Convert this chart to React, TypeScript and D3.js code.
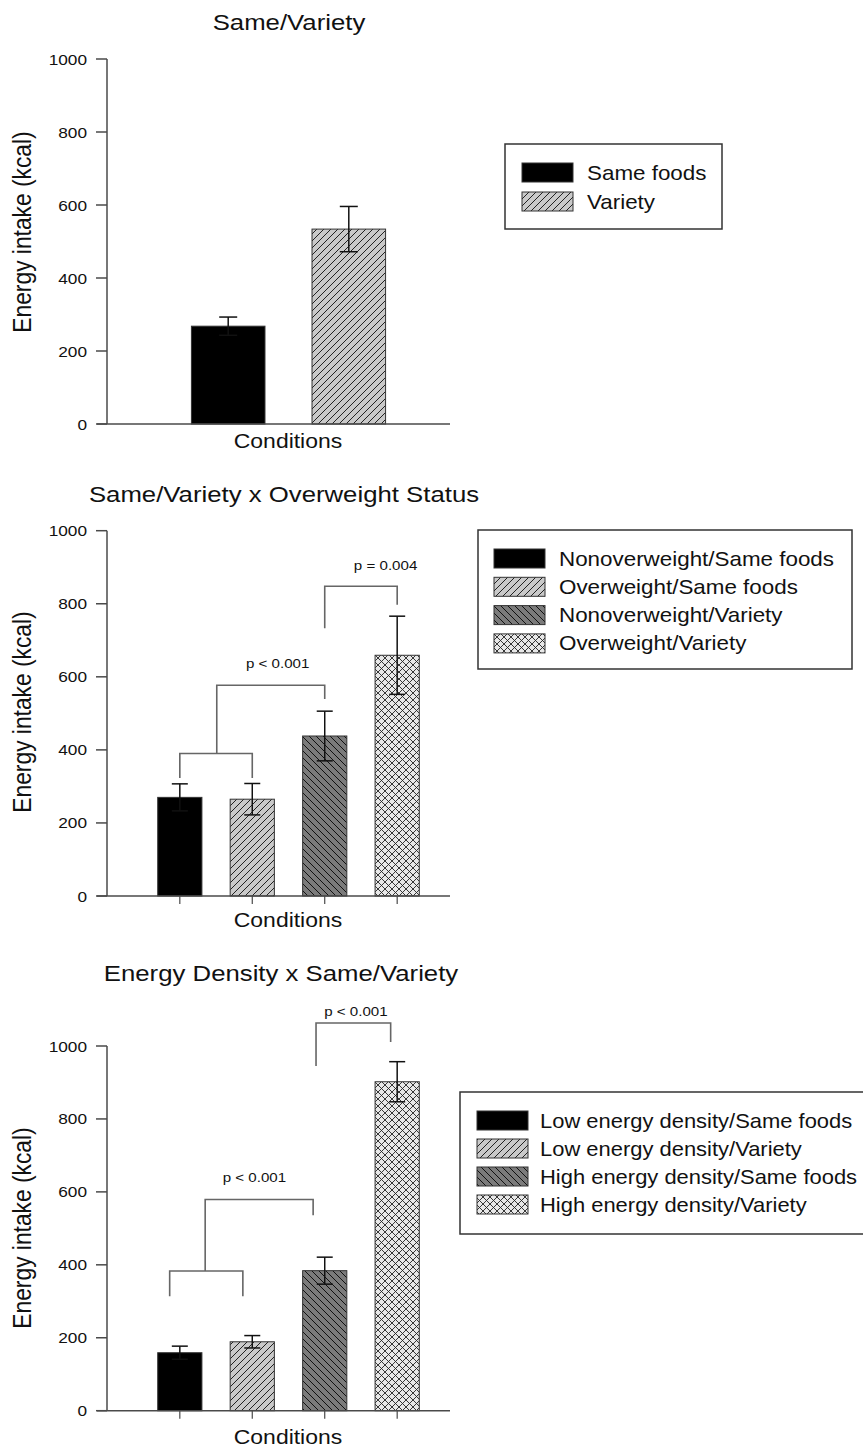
import * as d3 from "d3";

// three panels of mean energy intake (kcal) with SE bars
const sameVarietyCats = ["Same foods", "Variety"];
const sameVarietyMeans = [268, 534];
const sameVarietySE = [25, 62];

const overweightCats = [
  "Nonoverweight/Same foods",
  "Overweight/Same foods",
  "Nonoverweight/Variety",
  "Overweight/Variety",
];
const overweightMeans = [270, 265, 438, 659];
const overweightSE = [37, 43, 68, 107];

const densityCats = [
  "Low energy density/Same foods",
  "Low energy density/Variety",
  "High energy density/Same foods",
  "High energy density/Variety",
];
const densityMeans = [159, 189, 384, 902];
const densitySE = [18, 17, 37, 55];

const yTicks = [0, 200, 400, 600, 800, 1000];

// brackets: polylines in (bar index, kcal)
const overweightBrackets = [
  [[0, 323], [0, 390], [1, 390], [1, 323]],
  [[0.51, 390], [0.51, 577], [2, 577], [2, 539]],
  [[2, 733], [2, 848], [3, 848], [3, 797]],
];
const overweightPLabels = [
  { text: "p < 0.001", at: 1.35, value: 624 },
  { text: "p = 0.004", at: 2.84, value: 892 },
];
const densityBrackets = [
  [[-0.14, 314], [-0.14, 383], [0.87, 383], [0.87, 314]],
  [[0.35, 383], [0.35, 579], [1.84, 579], [1.84, 536]],
  [[1.88, 945], [1.88, 1063], [2.91, 1063], [2.91, 1011]],
];
const densityPLabels = [
  { text: "p < 0.001", at: 1.03, value: 627 },
  { text: "p < 0.001", at: 2.43, value: 1083 },
];

const FILLS = ["url(#solid)", "url(#fwd)", "url(#back)", "url(#cross)"];
const FONT = "'Liberation Sans', Arial, Helvetica, sans-serif";
const SX = 1.12; // the scan is a bit wider than it is tall

function Txt({ x, y, size, anchor = "start", rotate = false, children }) {
  return (
    <text
      transform={`translate(${x},${y}) scale(${SX},1)${rotate ? " rotate(-90)" : ""}`}
      fontSize={size}
      textAnchor={anchor}
      fontFamily={FONT}
      fill="#111"
    >
      {children}
    </text>
  );
}

function Panel({ title, titleX, titleY, top, bottom, cats, means, se, ticks, labelY, condY, brackets = [], pLabels = [] }) {
  const y = d3.scaleLinear().domain([0, 1000]).range([bottom, top]);
  const x = d3.scaleBand().domain(cats).range([107, 470]).paddingInner(0.39).paddingOuter(0.7);
  const centers = cats.map((c) => x(c) + x.bandwidth() / 2);
  const idx = d3.scaleLinear().domain([0, cats.length - 1]).range([centers[0], centers[centers.length - 1]]);
  const line = d3.line().x((d) => idx(d[0])).y((d) => y(d[1]));
  const cap = cats.length > 2 ? 8 : 9;

  return (
    <g>
      <Txt x={titleX} y={titleY} size={23} anchor="middle">{title}</Txt>
      {/* y axis */}
      <line x1={107} x2={107} y1={top} y2={bottom} stroke="#4a4a4a" strokeWidth={1.5} />
      {yTicks.map((t) => (
        <g key={t}>
          <line x1={96} x2={107} y1={y(t)} y2={y(t)} stroke="#4a4a4a" strokeWidth={1.5} />
          <Txt x={87} y={y(t) + 5.5} size={15.4} anchor="end">{t}</Txt>
        </g>
      ))}
      {/* bars */}
      {cats.map((c, i) => (
        <rect key={c} x={x(c)} y={y(means[i])} width={x.bandwidth()} height={y(0) - y(means[i])}
          fill={FILLS[i]} stroke="#333" strokeWidth={1} />
      ))}
      {/* x axis */}
      <line x1={97} x2={450} y1={bottom} y2={bottom} stroke="#4a4a4a" strokeWidth={1.5} />
      {ticks && centers.map((cx, i) => (
        <line key={i} x1={cx} x2={cx} y1={bottom} y2={bottom + 8} stroke="#4a4a4a" strokeWidth={1.2} />
      ))}
      {/* error bars */}
      {cats.map((c, i) => {
        const cx = centers[i];
        const hi = y(means[i] + se[i]);
        const lo = y(means[i] - se[i]);
        return (
          <g key={c} stroke="#111" strokeWidth={1.5}>
            <line x1={cx} x2={cx} y1={hi} y2={lo} />
            <line x1={cx - cap} x2={cx + cap} y1={hi} y2={hi} />
            <line x1={cx - cap} x2={cx + cap} y1={lo} y2={lo} />
          </g>
        );
      })}
      {brackets.map((b, i) => (
        <path key={i} d={line(b)} fill="none" stroke="#666" strokeWidth={1.6} />
      ))}
      {pLabels.map((p, i) => (
        <Txt key={i} x={idx(p.at)} y={y(p.value)} size={13.5} anchor="middle">{p.text}</Txt>
      ))}
      <Txt x={31} y={labelY} size={22.8} anchor="middle" rotate>Energy intake (kcal)</Txt>
      <Txt x={288} y={condY} size={20.5} anchor="middle">Conditions</Txt>
    </g>
  );
}

function Legend({ x, y, w, h, swX, rowY, pitch, textX, cats, size = 20 }) {
  return (
    <g>
      <rect x={x} y={y} width={w} height={h} fill="white" stroke="#333" strokeWidth={1.5} />
      {cats.map((c, i) => (
        <g key={c}>
          <rect x={swX} y={rowY + i * pitch} width={51} height={19} fill={FILLS[i]} stroke="#333" strokeWidth={1} />
          <Txt x={textX} y={rowY + i * pitch + 16.5} size={size}>{c}</Txt>
        </g>
      ))}
    </g>
  );
}

export default function App() {
  return (
    <svg width={863} height={1448} style={{ position: "absolute", left: 0, top: 0, background: "white" }}>
      <defs>
        <pattern id="solid" patternUnits="userSpaceOnUse" width={7} height={7}>
          <rect width={7} height={7} fill="#000" />
        </pattern>
        <pattern id="fwd" patternUnits="userSpaceOnUse" width={7} height={7}>
          <rect width={7} height={7} fill="#c9c9c9" />
          <path d="M0,7 L7,0 M-1,1 L1,-1 M6,8 L8,6" stroke="#222" strokeWidth={1} />
        </pattern>
        <pattern id="back" patternUnits="userSpaceOnUse" width={7} height={7}>
          <rect width={7} height={7} fill="#7b7b7b" />
          <path d="M0,0 L7,7 M-1,6 L1,8 M6,-1 L8,1" stroke="#111" strokeWidth={1} />
        </pattern>
        <pattern id="cross" patternUnits="userSpaceOnUse" width={7} height={7}>
          <rect width={7} height={7} fill="#e8e8e8" />
          <path d="M0,7 L7,0 M-1,1 L1,-1 M6,8 L8,6 M0,0 L7,7 M-1,6 L1,8 M6,-1 L8,1" stroke="#222" strokeWidth={0.9} />
        </pattern>
      </defs>
      <rect width={863} height={1448} fill="white" />

      <Panel title="Same/Variety" titleX={289} titleY={29.5} top={59} bottom={424}
        cats={sameVarietyCats} means={sameVarietyMeans} se={sameVarietySE} ticks={false}
        labelY={232} condY={448} />
      <Legend x={505} y={144} w={217} h={85} swX={522} rowY={163} pitch={29} textX={587} cats={sameVarietyCats} />

      <Panel title="Same/Variety x Overweight Status" titleX={284} titleY={501.5} top={530.7} bottom={896}
        cats={overweightCats} means={overweightMeans} se={overweightSE} ticks
        labelY={712} condY={926.5} brackets={overweightBrackets} pLabels={overweightPLabels} />
      <Legend x={478} y={530} w={374} h={139} swX={494} rowY={549} pitch={28.3} textX={559} cats={overweightCats} />

      <Panel title="Energy Density x Same/Variety" titleX={281} titleY={981} top={1046} bottom={1410.7}
        cats={densityCats} means={densityMeans} se={densitySE} ticks
        labelY={1228} condY={1444} brackets={densityBrackets} pLabels={densityPLabels} />
      <Legend x={460} y={1092} w={420} h={142} swX={477} rowY={1111} pitch={28} textX={540} cats={densityCats} size={19.6} />
    </svg>
  );
}
